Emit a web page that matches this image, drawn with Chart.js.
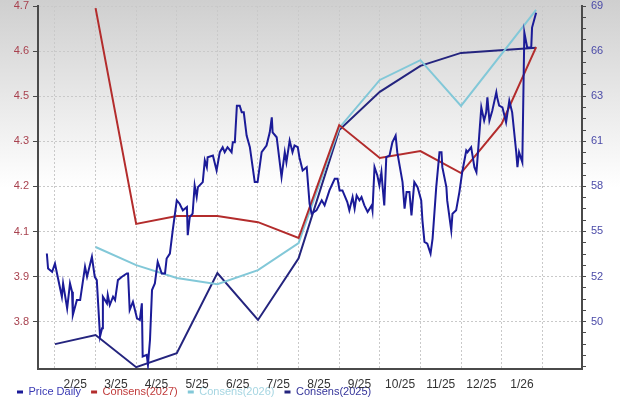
<!DOCTYPE html>
<html>
<head>
<meta charset="utf-8">
<script src="https://cdn.jsdelivr.net/npm/chart.js@4.4.1/dist/chart.umd.min.js"></script>
<style>
  html, body { margin: 0; padding: 0; background: #fff; }
</style>
</head>
<body>
<canvas id="chart" width="620" height="400"></canvas>
<script>
// month labels sit mid-month, gridlines on month boundaries (x = months since 1 Feb 2025)
var monthLabels = ['2/25', '3/25', '4/25', '5/25', '6/25', '7/25', '8/25', '9/25', '10/25', '11/25', '12/25', '1/26'];
var leftTickLabels = ['4.7', '4.6', '4.5', '4.3', '4.2', '4.1', '3.9', '3.8'];
var rightTickLabels = ['69', '66', '63', '61', '58', '55', '52', '50'];

var priceMonths = [
    -0.2, -0.17, -0.07, 0, 0.05, 0.17, 0.2, 0.3, 0.37, 0.42,
    0.44, 0.54, 0.62, 0.74, 0.79, 0.91, 0.98, 1.03, 1.11, 1.16,
    1.18, 1.28, 1.3, 1.35, 1.43, 1.48, 1.55, 1.65, 1.77, 1.8,
    1.84, 1.92, 2.02, 2.09, 2.14, 2.16, 2.26, 2.29, 2.34, 2.39,
    2.46, 2.53, 2.63, 2.71, 2.75, 2.83, 2.9, 3.0, 3.07, 3.15,
    3.25, 3.27, 3.32, 3.39, 3.44, 3.49, 3.52, 3.64, 3.69, 3.74,
    3.76, 3.89, 3.98, 4.06, 4.13, 4.18, 4.25, 4.35, 4.38, 4.43,
    4.48, 4.55, 4.6, 4.65, 4.72, 4.8, 4.92, 4.99, 5.09, 5.21,
    5.29, 5.34, 5.36, 5.46, 5.58, 5.66, 5.7, 5.78, 5.85, 5.9,
    5.98, 6.02, 6.1, 6.2, 6.27, 6.32, 6.44, 6.57, 6.64, 6.76,
    6.89, 6.96, 7.01, 7.08, 7.2, 7.25, 7.33, 7.38, 7.43, 7.5,
    7.55, 7.62, 7.7, 7.8, 7.82, 7.87, 7.94, 7.99, 8.04, 8.07,
    8.11, 8.16, 8.24, 8.31, 8.39, 8.43, 8.56, 8.61, 8.66, 8.73,
    8.78, 8.85, 8.93, 9.02, 9.05, 9.1, 9.17, 9.25, 9.3, 9.39,
    9.47, 9.52, 9.54, 9.64, 9.66, 9.76, 9.79, 9.88, 9.96, 10.03,
    10.13, 10.16, 10.25, 10.33, 10.38, 10.4, 10.5, 10.57, 10.62, 10.65,
    10.7, 10.77, 10.87, 10.89, 10.94, 11.02, 11.11, 11.19, 11.26, 11.36,
    11.39, 11.43, 11.51, 11.56, 11.63, 11.73, 11.75, 11.85
];
var priceDaily = [
    54.1, 53.2, 53.0, 53.5, 52.9, 51.5, 52.3, 50.8, 52.3, 51.8,
    50.4, 51.3, 51.3, 53.3, 52.7, 53.9, 52.7, 52.5, 49.1, 49.6,
    51.5, 51.1, 51.6, 51.0, 51.5, 51.3, 52.5, 52.7, 52.9, 52.9,
    50.7, 51.2, 50.2, 50.1, 51.1, 47.9, 48.0, 47.4, 48.9, 51.9,
    52.3, 53.6, 52.9, 52.9, 53.8, 54.1, 55.5, 57.3, 57.1, 56.7,
    56.9, 55.2, 56.3, 56.5, 58.2, 57.5, 58.1, 58.4, 59.7, 59.3,
    59.9, 60.0, 59.1, 60.2, 60.5, 60.2, 60.5, 60.2, 60.8, 60.8,
    63.0, 63.0, 62.6, 62.6, 61.2, 60.5, 58.4, 58.4, 60.2, 60.6,
    61.4, 62.3, 61.4, 61.1, 58.7, 60.2, 59.6, 60.9, 60.2, 60.6,
    60.5, 59.9, 59.1, 59.3, 57.1, 56.5, 56.7, 57.3, 57.0, 57.9,
    58.6, 58.6, 57.9, 57.9, 57.2, 56.7, 57.5, 56.8, 57.6, 57.3,
    57.5, 57.0, 56.6, 57.0, 56.7, 59.3, 58.8, 58.2, 59.0, 58.1,
    57.0, 59.9, 60.0, 60.8, 61.2, 60.2, 58.4, 56.8, 57.8, 57.8,
    56.4, 58.4, 58.1, 57.3, 56.1, 54.8, 54.7, 54.1, 55.0, 58.1,
    60.2, 60.2, 59.3, 58.1, 57.3, 55.5, 56.5, 56.7, 57.8, 59.0,
    60.3, 60.2, 60.5, 59.3, 59.0, 59.6, 62.9, 62.1, 62.6, 63.5,
    62.1, 62.7, 63.8, 63.5, 63.0, 62.9, 62.0, 63.3, 62.6, 60.2,
    59.3, 60.2, 59.6, 67.4, 66.5, 66.5, 67.7, 68.6
];

// consensus revisions, one point per month boundary plus the latest
var consMonths = [0, 1, 2, 3, 4, 5, 6, 7, 8, 9, 10, 11, 11.85];
var cons2027 = [null, 4.694, 4.096, 4.118, 4.118, 4.101, 4.057, 4.370, 4.279, 4.298, 4.237, 4.373, 4.586];
var cons2026 = [null, 4.032, 3.982, 3.946, 3.929, 3.968, 4.043, 4.362, 4.495, 4.550, 4.423, null, 4.689];
var cons2025 = [3.763, 3.788, 3.699, 3.738, 3.960, 3.830, 4.001, 4.356, 4.462, 4.534, 4.570, null, 4.584];

var seriesNames = ['Price Daily', 'Consens(2027)', 'Consens(2026)', 'Consens(2025)'];
var lineColors = ['#1b1b98', '#b32c2c', '#82c8d8', '#24247e'];
var legendColors = ['#3a3ab4', '#c03a3a', '#a6d6e2', '#34349a'];

function toPoints(xs, ys) {
    return xs.map((x, i) => ({x: x, y: ys[i]}));
}

var baseFont = '"Liberation Sans", Arial, sans-serif';

var backgroundFill = {
    id: 'backgroundFill',
    beforeDraw: function(chart) {
        var ctx = chart.ctx;
        var grad = ctx.createLinearGradient(0, 0, 0, chart.height);
        grad.addColorStop(0, '#cfcfcf');
        grad.addColorStop(0.47, '#ffffff');
        grad.addColorStop(1, '#ffffff');
        ctx.save();
        ctx.fillStyle = grad;
        ctx.fillRect(0, 0, chart.width, chart.height);
        ctx.restore();
    }
};

function lineSet(idx, xs, ys, axis) {
    return {
        label: seriesNames[idx],
        data: toPoints(xs, ys),
        borderColor: lineColors[idx],
        backgroundColor: lineColors[idx],
        borderWidth: 2,
        pointRadius: 0,
        tension: 0,
        spanGaps: true,
        yAxisID: axis
    };
}

// keep the top tick flush with the plot top
function tightY(width) {
    return function(scale) {
        scale.width = width;
        scale.paddingTop = 6;
        scale.paddingBottom = 0;
    };
}

var gridColor = '#c9c9c9';
var axisColor = '#4a4a4a';

new Chart(document.getElementById('chart'), {
    type: 'line',
    data: {
        datasets: [
            lineSet(0, priceMonths, priceDaily, 'y1'),
            lineSet(1, consMonths, cons2027, 'y'),
            lineSet(2, consMonths, cons2026, 'y'),
            lineSet(3, consMonths, cons2025, 'y')
        ]
    },
    options: {
        responsive: false,
        animation: false,
        devicePixelRatio: 1,
        events: [],
        layout: {padding: {left: 7, top: 0, right: 0, bottom: -7.5}},
        plugins: {
            tooltip: {enabled: false},
            legend: {
                position: 'bottom',
                align: 'start',
                labels: {
                    boxWidth: 6,
                    boxHeight: 3,
                    padding: 10,
                    font: {family: baseFont, size: 11},
                    generateLabels: function(chart) {
                        var items = Chart.defaults.plugins.legend.labels.generateLabels(chart);
                        items.forEach((item, i) => {
                            item.fontColor = legendColors[i];
                            item.lineWidth = 0;
                            item.strokeStyle = 'rgba(0,0,0,0)';
                        });
                        return items;
                    }
                }
            }
        },
        scales: {
            x: {
                type: 'linear',
                min: -0.418,
                max: 12.98,
                afterBuildTicks: function(scale) {
                    var ticks = [];
                    for (var i = 0; i <= monthLabels.length; i++) {
                        ticks.push({value: i, text: ''});
                        if (i < monthLabels.length) ticks.push({value: i + 0.5, text: monthLabels[i], mid: true});
                    }
                    scale.ticks = ticks;
                },
                afterFit: function(scale) { scale.height = 7.5; },
                ticks: {
                    autoSkip: false,
                    maxRotation: 0,
                    // mirror stops the labels being clipped to the thin axis box
                    mirror: true,
                    padding: -23,
                    color: '#333333',
                    font: {family: baseFont, size: 12},
                    callback: function(value, index, ticks) { return ticks[index].text; }
                },
                grid: {
                    drawTicks: false,
                    color: function(c) { return c.tick && c.tick.mid ? 'rgba(0,0,0,0)' : gridColor; }
                },
                border: {color: axisColor, width: 2, dash: [2, 2]}
            },
            y: {
                position: 'left',
                min: 3.694,
                max: 4.7,
                afterBuildTicks: function(scale) {
                    scale.ticks = leftTickLabels.map((t, k) => ({value: 4.7 - k * 0.125, text: t}));
                },
                afterFit: tightY(31),
                ticks: {
                    autoSkip: false,
                    padding: 4,
                    color: '#a8424f',
                    font: {family: baseFont, size: 11},
                    callback: function(value, index, ticks) { return ticks[index].text; }
                },
                grid: {color: gridColor, tickColor: axisColor, tickLength: 5},
                border: {color: axisColor, width: 2, dash: [2, 2]}
            },
            y1: {
                position: 'right',
                min: 47.15,
                max: 69,
                afterBuildTicks: function(scale) {
                    // four minor ticks per labelled step
                    var step = 19 / 7 / 4;
                    var ticks = [];
                    for (var j = 0; 69 - j * step >= scale.min; j++) {
                        var major = j % 4 == 0 && j / 4 < rightTickLabels.length;
                        ticks.push({value: 69 - j * step, text: major ? rightTickLabels[j / 4] : ''});
                    }
                    scale.ticks = ticks;
                },
                afterFit: tightY(38),
                ticks: {
                    autoSkip: false,
                    padding: 5,
                    color: '#4b4ba8',
                    font: {family: baseFont, size: 11},
                    callback: function(value, index, ticks) { return ticks[index].text; }
                },
                grid: {drawOnChartArea: false, tickColor: axisColor, tickLength: 4},
                border: {color: axisColor, width: 2}
            }
        }
    },
    plugins: [backgroundFill]
});
</script>
</body>
</html>
